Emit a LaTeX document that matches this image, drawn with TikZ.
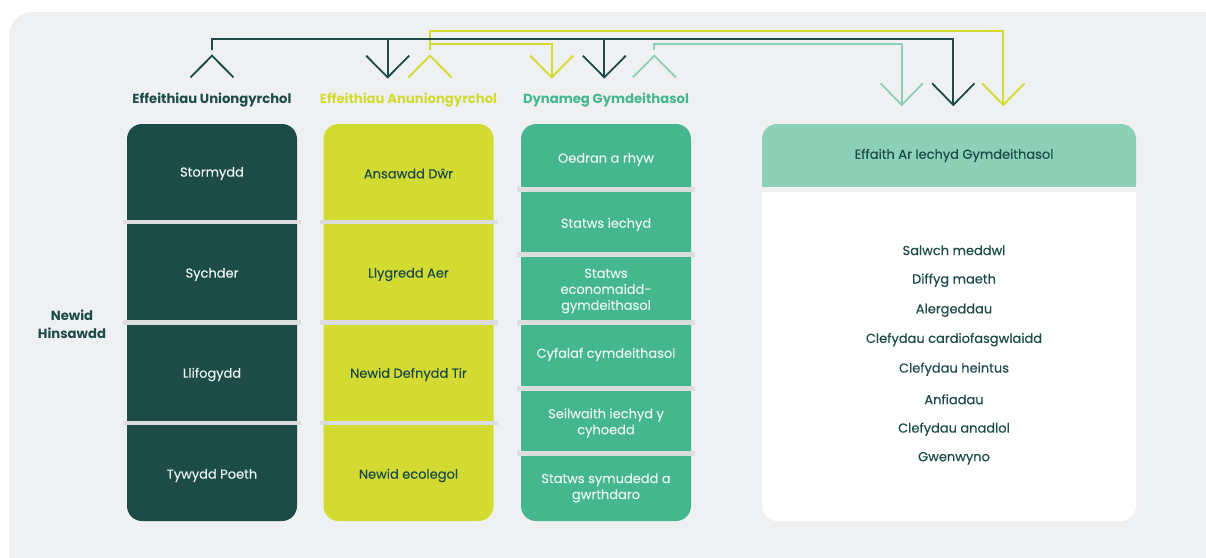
\documentclass[tikz,border=0pt]{standalone}
\usepackage{fontspec}
\setmainfont{Poppins}
\newfontfamily\itemfont{Poppins}[FakeBold=0.35]
\definecolor{bg}{HTML}{EFF0F2}
\definecolor{sepc}{HTML}{DCDDDF}
\definecolor{dk}{HTML}{1C4B48}
\definecolor{lime}{HTML}{D3DB32}
\definecolor{grn}{HTML}{45B78F}
\definecolor{mint}{HTML}{8CD0B8}
\definecolor{lt}{HTML}{E8F2EE}
\begin{document}
\begin{tikzpicture}[x=1pt,y=-1pt,
  colbox/.style={rectangle,rounded corners=15pt,minimum width=170pt,minimum height=397pt,inner sep=0pt},
  item/.style={font=\itemfont\fontsize{13}{16}\selectfont,align=center,yshift=-1.5pt},
  hdr/.style={font=\fontsize{13.2}{15}\selectfont\bfseries},
  sepbar/.style={sepc,line width=4.6pt},
  conn/.style={line width=1.8pt},
  plain/.style={font=\itemfont\fontsize{13}{15.5}\selectfont,text=dk,yshift=-1pt}
]
\useasboundingbox (0,0) rectangle (1206,557);
\fill[white] (0,0) rectangle (1206,557);
\fill[bg,rounded corners=24pt] (9,12) rectangle (1230,580);

% connectors: coordinates
\coordinate (dA) at (212,50);
\coordinate (dT) at (212,39);
\coordinate (dE) at (953.3,105);
\coordinate (lA) at (430,50);
\coordinate (lT) at (430,31);
\coordinate (lE) at (1003.3,105);
\coordinate (lM) at (430,44.3);
\coordinate (lE2) at (551.7,77.3);
\coordinate (mA) at (654.3,50);
\coordinate (mT) at (654.3,44.3);
\coordinate (mE) at (901.7,105);
\coordinate (dB1) at (387.7,39);
\coordinate (dE1) at (387.7,77.3);
\coordinate (dB2) at (604.3,39);
\coordinate (dE2) at (604.3,77.3);

% lime and mint lines
\draw[conn,lime] (lA) -- (lT) -| (lE);
\draw[conn,lime] (lM) -| (lE2);
\draw[conn,mint] (mA) -- (mT) -| (mE);
% dark lines
\draw[conn,dk] (dA) -- (dT) -| (dE);
\draw[conn,dk] (dB1) -- (dE1);
\draw[conn,dk] (dB2) -- (dE2);

% carets (up)
\draw[conn,dk] (190.5,77.3) -- (212,55.7) -- (233.5,77.3);
\draw[conn,lime] (408.5,77.3) -- (430,55.7) -- (451.5,77.3);
\draw[conn,mint] (632.8,77.3) -- (654.3,55.7) -- (675.8,77.3);
% down Vs
\draw[conn,dk] (366.2,55.7) -- (dE1) -- (409.2,55.7);
\draw[conn,lime] (530.2,55.7) -- (lE2) -- (573.2,55.7);
\draw[conn,dk] (582.8,55.7) -- (dE2) -- (625.8,55.7);
\draw[conn,mint] (880.5,83.3) -- (mE) -- (922.9,83.3);
\draw[conn,dk] (932.1,83.3) -- (dE) -- (974.5,83.3);
\draw[conn,lime] (982.1,83.3) -- (lE) -- (1024.5,83.3);

% column headers
\node[hdr,text=dk] (h1) at (212,100) {Effeithiau Uniongyrchol};
\node[hdr,text=lime] (h2) at (408.5,100) {Effeithiau Anuniongyrchol};
\node[hdr,text=grn] (h3) at (606,100) {Dynameg Gymdeithasol};

\node[text=dk,align=center,font=\fontsize{13.2}{18}\selectfont\bfseries] (nh) at (72,324) {Newid\\Hinsawdd};

% column 1
\node[colbox,fill=dk] (c1) at (212,322.5) {};
\foreach \y in {222,322.5,423} \draw[sepbar] (123,\y) -- (301,\y);
\node[item,text=lt] (a1) at (212,172) {Stormydd};
\node[item,text=lt] (a2) at (212,273) {Sychder};
\node[item,text=lt] (a3) at (212,373) {Llifogydd};
\node[item,text=lt] (a4) at (212,474) {Tywydd Poeth};

% column 2
\node[colbox,fill=lime] (c2) at (408.5,322.5) {};
\foreach \y in {222,322.5,423} \draw[sepbar] (320,\y) -- (497.5,\y);
\node[item,text=dk] (b1) at (408.5,172) {Ansawdd Dŵr};
\node[item,text=dk] (b2) at (408.5,273) {Llygredd Aer};
\node[item,text=dk] (b3) at (408.5,373) {Newid Defnydd Tir};
\node[item,text=dk] (b4) at (408.5,474) {Newid ecolegol};

% column 3
\node[colbox,fill=grn] (c3) at (606,322.5) {};
\foreach \y in {189.3,254.3,322.3,388.3,453.3} \draw[sepbar] (516.7,\y) -- (695,\y);
\node[item,text=lt] (s1) at (606,158) {Oedran a rhyw};
\node[item,text=lt] (s2) at (606,223) {Statws iechyd};
\node[item,text=lt] (s3) at (606,289.5) {Statws\\economaidd-\\gymdeithasol};
\node[item,text=lt] (s4) at (606,353) {Cyfalaf cymdeithasol};
\node[item,text=lt] (s5) at (606,421.5) {Seilwaith iechyd y\\cyhoedd};
\node[item,text=lt] (s6) at (606,486.5) {Statws symudedd a\\gwrthdaro};

% right panel
\node[rectangle,rounded corners=15pt,fill=white,minimum width=374pt,minimum height=397pt,inner sep=0pt] (panel) at (949,322.5) {};
\begin{scope}
  \clip (762,124) rectangle (1136,187);
  \fill[mint,rounded corners=15pt] (762,124) rectangle (1136,521);
\end{scope}
\fill[bg] (762,187) rectangle (1136,192);
\node[plain] (ph) at (954,154.5) {Effaith Ar Iechyd Gymdeithasol};
\node[plain] (e1) at (954,249.3) {Salwch meddwl};
\node[plain] (e2) at (954,279.3) {Diffyg maeth};
\node[plain] (e3) at (954,309.3) {Alergeddau};
\node[plain] (e4) at (954,338.7) {Clefydau cardiofasgwlaidd};
\node[plain] (e5) at (954,368.3) {Clefydau heintus};
\node[plain] (e6) at (954,398.3) {Anfiadau};
\node[plain] (e7) at (954,428.3) {Clefydau anadlol};
\node[plain] (e8) at (954,457.3) {Gwenwyno};
\end{tikzpicture}
\end{document}
